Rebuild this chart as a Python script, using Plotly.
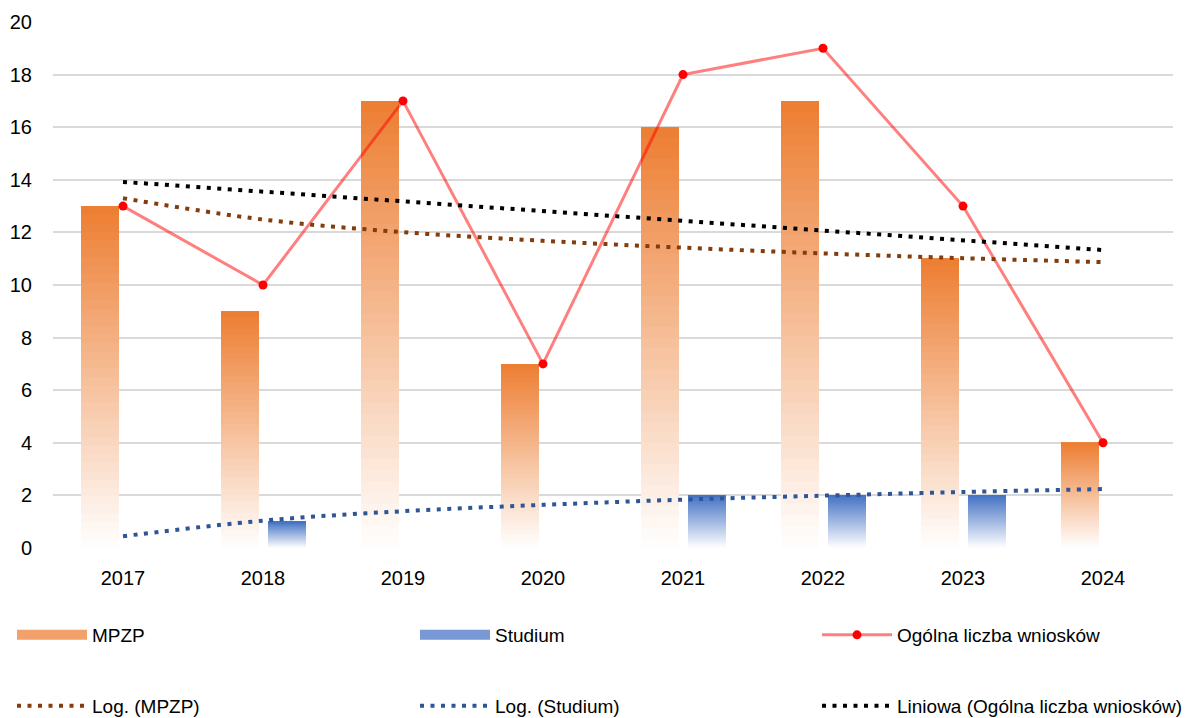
import plotly.graph_objects as go

years = ['2017', '2018', '2019', '2020', '2021', '2022', '2023', '2024']
mpzp = [13, 9, 17, 7, 16, 17, 11, 4]
studium = [None, 1, None, None, 2, 2, 2, None]
total = [13, 10, 17, 7, 18, 19, 13, 4]
log_mpzp = [13.30, 12.49, 12.01, 11.68, 11.42, 11.20, 11.02, 10.87]
log_studium = [0.45, 1.04, 1.40, 1.64, 1.84, 1.99, 2.13, 2.24]
lin_total = [13.92, 13.55, 13.18, 12.81, 12.44, 12.07, 11.70, 11.33]

FONT = "Liberation Sans, Arial, sans-serif"
ORANGE = (237, 125, 49)
BLUE = (68, 114, 196)
N = 40


def mix(rgb, f):
    return 'rgb(%d,%d,%d)' % tuple(round(255 + (c - 255) * f) for c in rgb)


fig = go.Figure()

# gradient bars: overlapping layers, each reaching the bar top
for series, rgb, off in [(mpzp, ORANGE, -0.30), (studium, BLUE, 0.036)]:
    for k in range(N):
        f = (k + 0.5) / N
        fig.add_trace(go.Bar(
            x=years,
            y=[v * (N - k) / N if v is not None else None for v in series],
            base=[v * k / N if v is not None else 0 for v in series],
            width=0.271, offset=off,
            marker=dict(color=mix(rgb, f), line=dict(width=0)),
            showlegend=False, hoverinfo='skip'))

fig.add_trace(go.Scatter(
    x=years, y=total, mode='lines+markers', name='Ogólna liczba wniosków',
    line=dict(color='rgba(255,0,0,0.5)', width=3),
    marker=dict(color='#FF0000', size=9), legend='legend3'))

dash = '4px,6.5px'
fig.add_trace(go.Scatter(x=years, y=log_mpzp, mode='lines', name='Log. (MPZP)',
                         line=dict(color='#843C0C', width=4, dash=dash, shape='spline'),
                         legend='legend4'))
fig.add_trace(go.Scatter(x=years, y=log_studium, mode='lines', name='Log. (Studium)',
                         line=dict(color='#2F5597', width=4, dash=dash, shape='spline'),
                         legend='legend5'))
fig.add_trace(go.Scatter(x=years, y=lin_total, mode='lines',
                         name='Liniowa (Ogólna liczba wniosków)',
                         line=dict(color='#000000', width=4, dash=dash),
                         legend='legend6'))

# legend swatches for the gradient bars
for name, rgb, lg in [('MPZP', ORANGE, 'legend'), ('Studium', BLUE, 'legend2')]:
    fig.add_trace(go.Scatter(
        x=[None], y=[None], mode='lines', name=name,
        line=dict(width=13, color=mix(rgb, 0.72)), legend=lg))

# page body adds an 8px offset, so the figure is 8px smaller than the window
W, H = 1184, 710
legend_pos = {
    'legend': (4, 627), 'legend2': (407, 627), 'legend3': (809, 627),
    'legend4': (4, 698), 'legend5': (407, 698), 'legend6': (809, 698),
}
layout_legends = {}
for key, (px, py) in legend_pos.items():
    layout_legends[key] = dict(
        xref='container', yref='container', x=px / W, y=(H - py) / H,
        xanchor='left', yanchor='middle', bgcolor='rgba(0,0,0,0)',
        itemwidth=70,
        font=dict(family=FONT, size=19, color='#000000'))

fig.update_layout(
    width=W, height=H,
    margin=dict(l=45, r=19, t=14, b=170, autoexpand=False),
    paper_bgcolor='white', plot_bgcolor='white',
    barmode='overlay',
    font=dict(family=FONT, size=20, color='#000000'),
    xaxis=dict(type='category', categoryarray=years, range=[-0.5, 7.5],
               showgrid=False, showline=False, zeroline=False,
               ticks='', ticklabelstandoff=16, tickangle=0,
               tickfont=dict(family=FONT, size=20, color='#000000')),
    yaxis=dict(range=[0, 20], dtick=2, showgrid=True, gridcolor='#D9D9D9',
               gridwidth=2, zeroline=False, showline=False, ticks='',
               ticklabelstandoff=20,
               tickfont=dict(family=FONT, size=20, color='#000000')),
    **layout_legends,
)

fig.write_html("out.html")
